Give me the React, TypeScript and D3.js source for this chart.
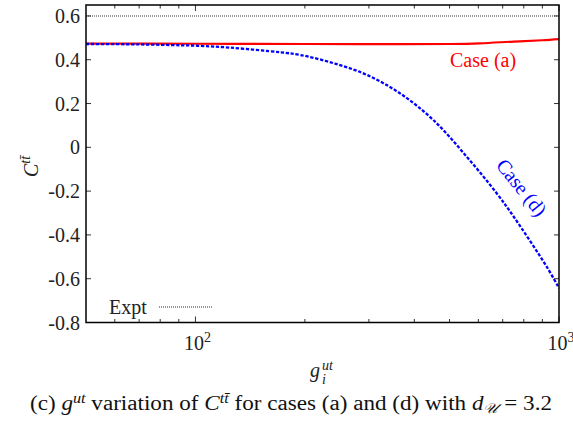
import React from "react";
import * as d3 from "d3";

// ---- data ----
const gCaseA = [50, 100, 200, 320, 500, 606, 750, 900, 1000];
const cCaseA = [0.474, 0.473, 0.472, 0.471, 0.472, 0.475, 0.483, 0.489, 0.494];
const gCaseD = [50, 70, 91, 101, 125, 171, 194, 240, 296, 365, 451, 557, 674, 750, 925, 1000];
const cCaseD = [0.472, 0.47, 0.466, 0.464, 0.455, 0.434, 0.422, 0.384, 0.331, 0.247, 0.125, -0.042, -0.21, -0.316, -0.545, -0.643];
const exptValue = 0.6;
const yTickValues = [0.6, 0.4, 0.2, 0, -0.2, -0.4, -0.6, -0.8];
const yTickLabels = ["0.6", "0.4", "0.2", "0", "-0.2", "-0.4", "-0.6", "-0.8"];
const xMajorTicks = [100, 1000];
const xMajorExp = ["2", "3"];
const xMinorTicks = [60, 70, 80, 90, 200, 300, 400, 500, 600, 700, 800, 900];

const FONT = "'Liberation Serif', 'Times New Roman', serif";

export default function App() {
  const L = 86, R = 559, T = 5, B = 322.5;
  const x = d3.scaleLog().domain([50, 1000]).range([L, R]);
  const y = d3.scaleLinear().domain([-0.8, 0.65]).range([B, T]);
  const line = d3
    .line<[number, number]>()
    .x((d) => x(d[0]))
    .y((d) => y(d[1]))
    .curve(d3.curveCatmullRom.alpha(0.5));
  const dA = line(gCaseA.map((g, i) => [g, cCaseA[i]] as [number, number])) || "";
  const dD = line(gCaseD.map((g, i) => [g, cCaseD[i]] as [number, number])) || "";
  const tickColor = "#333";

  return (
    <svg
      width={573}
      height={424}
      style={{ position: "absolute", left: 0, top: 0, background: "#fff" }}
      fontFamily={FONT}
    >
      <defs>
        <clipPath id="plot">
          <rect x={L} y={T} width={R - L} height={B - T} />
        </clipPath>
      </defs>
      {/* expt line */}
      <line x1={L} x2={R} y1={y(exptValue)} y2={y(exptValue)} stroke="#777" strokeWidth={1.5} strokeDasharray="1,1" />
      <g clipPath="url(#plot)">
        <path d={dA} fill="none" stroke="#ff0000" strokeWidth={2.2} />
        <path d={dD} fill="none" stroke="#0000ff" strokeWidth={2.3} strokeDasharray="3.3,1.7" />
      </g>
      {/* ticks */}
      {yTickValues.map((v) => (
        <g key={"yt" + v}>
          <line x1={L} x2={L + 5} y1={y(v)} y2={y(v)} stroke={tickColor} strokeWidth={1} />
          <line x1={R - 5} x2={R} y1={y(v)} y2={y(v)} stroke={tickColor} strokeWidth={1} />
        </g>
      ))}
      {xMinorTicks.map((v) => (
        <g key={"xm" + v}>
          <line x1={x(v)} x2={x(v)} y1={B} y2={B - 3.5} stroke={tickColor} strokeWidth={1} />
          <line x1={x(v)} x2={x(v)} y1={T} y2={T + 3.5} stroke={tickColor} strokeWidth={1} />
        </g>
      ))}
      {xMajorTicks.map((v) => (
        <g key={"xM" + v}>
          <line x1={x(v)} x2={x(v)} y1={B} y2={B - 6} stroke={tickColor} strokeWidth={1} />
          <line x1={x(v)} x2={x(v)} y1={T} y2={T + 6} stroke={tickColor} strokeWidth={1} />
        </g>
      ))}
      {/* frame */}
      <rect x={L} y={T} width={R - L} height={B - T} fill="none" stroke="#000" strokeWidth={1.5} />
      {/* y tick labels */}
      {yTickValues.map((v, i) => (
        <text key={"yl" + v} x={80} y={y(v) + 7} fontSize={20} textAnchor="end" fill="#222">
          {yTickLabels[i]}
        </text>
      ))}
      {/* x tick labels */}
      {xMajorTicks.map((v, i) => (
        <text key={"xl" + v} x={x(v) + 2} y={350} fontSize={20} textAnchor="middle" fill="#222">
          10
          <tspan dy={-8} fontSize={14}>
            {xMajorExp[i]}
          </tspan>
        </text>
      ))}
      {/* legend */}
      <text x={109} y={314} fontSize={20} fill="#222">
        Expt
      </text>
      <line x1={159} x2={213} y1={307} y2={307} stroke="#777" strokeWidth={1.5} strokeDasharray="1,1" />
      {/* curve labels */}
      <text x={450} y={67} fontSize={20} fill="#ff0000">
        Case (a)
      </text>
      <g transform="translate(521,188) rotate(51)">
        <text x={0} y={6} fontSize={20} fill="#0000ff" textAnchor="middle">
          Case (d)
        </text>
      </g>
      {/* y axis label */}
      <g transform="translate(38,177) rotate(-90)">
        <text x={0} y={0} fontSize={20} fontStyle="italic" fill="#222">
          C
          <tspan dy={-8} fontSize={14}>
            t{"t\u0304"}
          </tspan>
        </text>
      </g>
      {/* x axis label */}
      <text x={310} y={377} fontSize={20} fontStyle="italic" fill="#222">
        g
      </text>
      <text x={322} y={370} fontSize={14} fontStyle="italic" fill="#222">
        ut
      </text>
      <text x={322} y={384} fontSize={14} fontStyle="italic" fill="#222">
        i
      </text>
      {/* caption */}
      <text x={30} y={410} fontSize={20} fill="#111" textLength={522} lengthAdjust="spacingAndGlyphs">
        (c){" "}
        <tspan fontStyle="italic">g</tspan>
        <tspan dy={-7} fontSize={14} fontStyle="italic">
          ut
        </tspan>
        <tspan dy={7}> variation of </tspan>
        <tspan fontStyle="italic">C</tspan>
        <tspan dy={-7} fontSize={14} fontStyle="italic">
          t{"t\u0304"}
        </tspan>
        <tspan dy={7}> for cases (a) and (d) with </tspan>
        <tspan fontStyle="italic">d</tspan>
        <tspan dy={3} fontSize={14} fontStyle="italic">
          {"\u{1D4B0}"}
        </tspan>
        <tspan dy={-3}> = 3.2</tspan>
      </text>
    </svg>
  );
}
